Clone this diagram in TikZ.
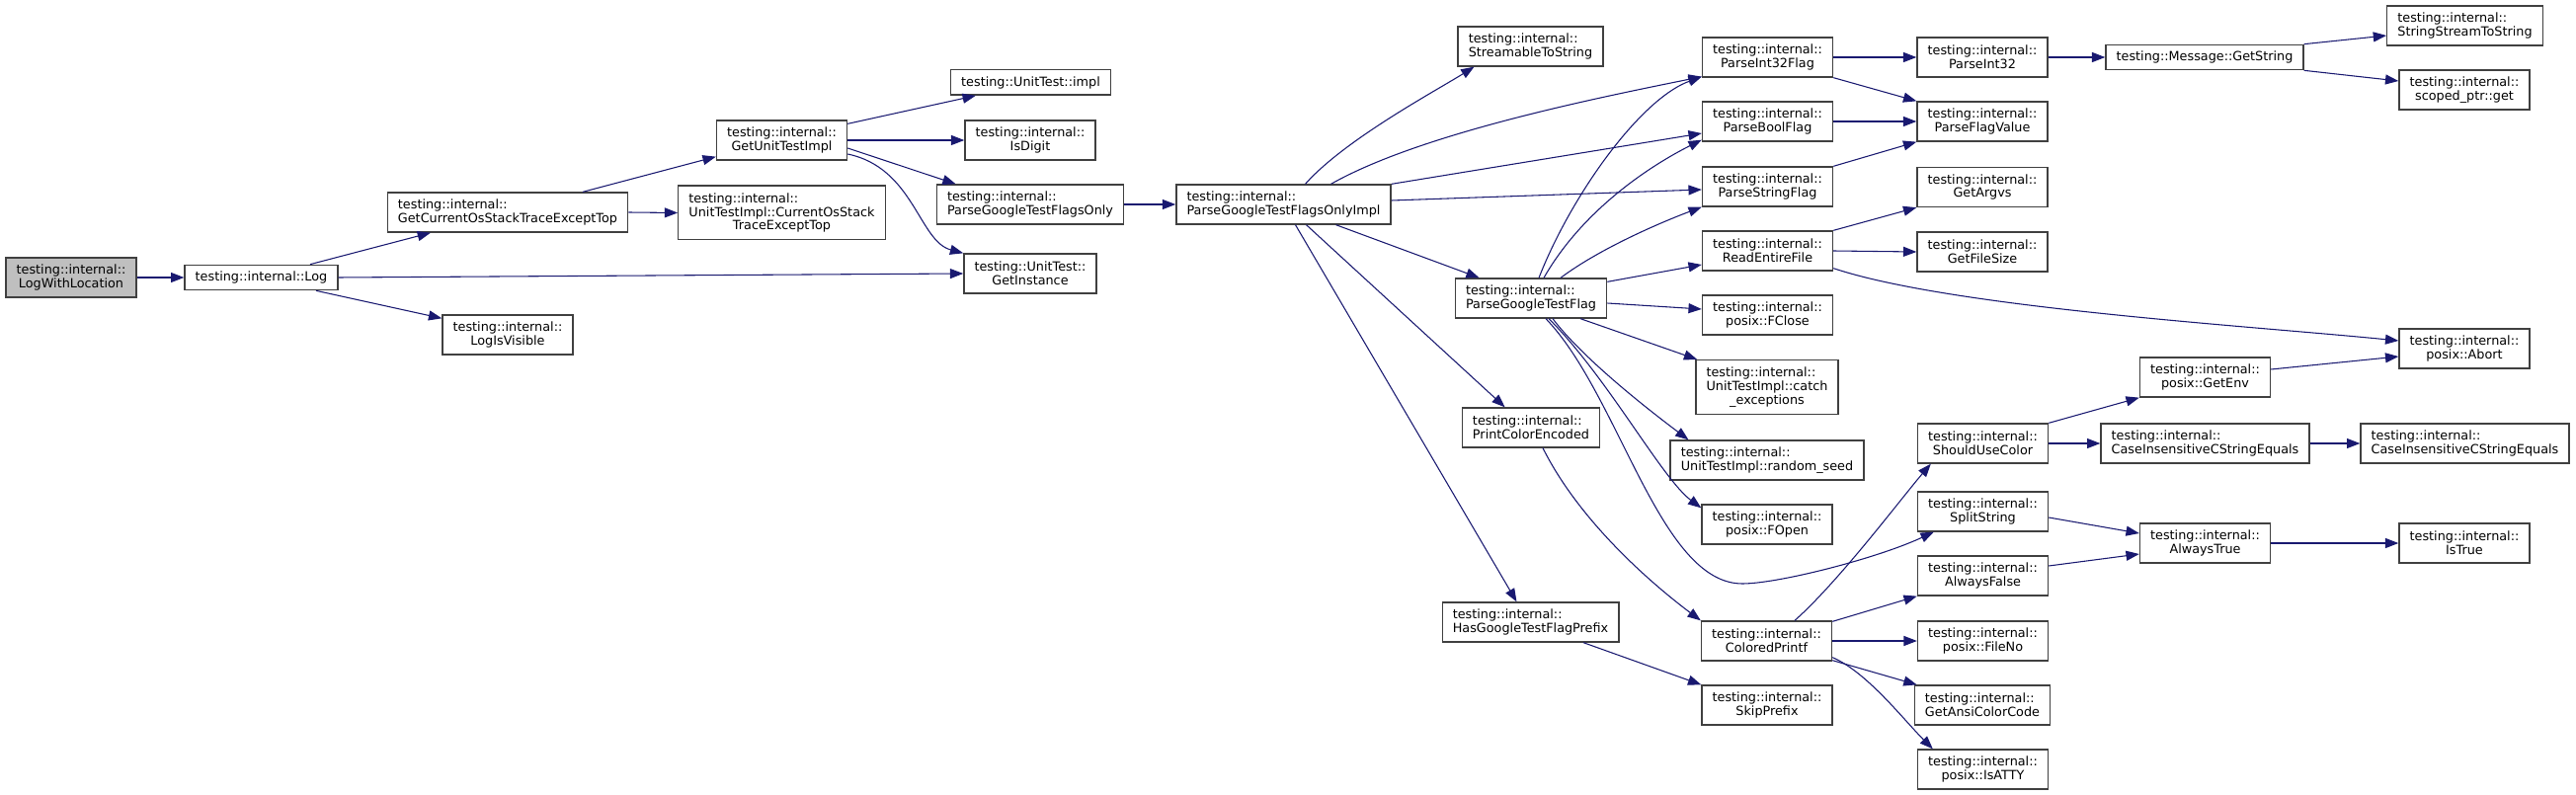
\documentclass[tikz,border=0pt]{standalone}
\usepackage{fontspec}
\setmainfont{DejaVu Sans}
\usetikzlibrary{arrows.meta,calc}
\definecolor{edgeblue}{HTML}{191970}
\definecolor{boxgray}{HTML}{404040}
\definecolor{rootgray}{HTML}{BFBFBF}
\newcommand{\ctrline}[1]{\null\hfill#1\hfill\null}

\begin{document}
\begin{tikzpicture}[x=0.75pt, y=-0.75pt,
    fn/.style={draw=boxgray, line width=1pt, fill=white, align=left,
      inner xsep=8pt, inner ysep=2pt, minimum height=19pt,
      font=\fontsize{9.6}{10.3}\selectfont},
    two/.style={minimum height=30pt},
    three/.style={minimum height=41pt},
    root/.style={fill=rootgray},
    call/.style={draw=edgeblue, line width=0.8pt, -{Triangle[length=10pt,width=7.5pt]}}]
    \useasboundingbox (0,0) rectangle (2608,805);

    % caller
    \node[fn, two, root] (lwl) at (72,281) {testing::internal::\\\ctrline{LogWithLocation}};
    \node[fn] (log) at (264.5,281) {testing::internal::Log};

    % Log callees
    \node[fn, two] (gcost) at (514,215) {testing::internal::\\\ctrline{GetCurrentOsStackTraceExceptTop}};
    \node[fn, two] (isvis) at (514,339) {testing::internal::\\\ctrline{LogIsVisible}};
    \node[fn, three] (cost) at (791.5,215.5) {testing::internal::\\UnitTestImpl::CurrentOsStack\\\ctrline{TraceExceptTop}};
    \node[fn, two] (gut) at (791.5,142) {testing::internal::\\\ctrline{GetUnitTestImpl}};
    \node[fn] (impl) at (1043.5,83.5) {testing::UnitTest::impl};
    \node[fn, two] (isdigit) at (1043,142) {testing::internal::\\\ctrline{IsDigit}};
    \node[fn, two] (pgtfo) at (1043,207) {testing::internal::\\\ctrline{ParseGoogleTestFlagsOnly}};
    \node[fn, two] (getinst) at (1043,277) {testing::UnitTest::\\\ctrline{GetInstance}};
    \node[fn, two] (pimpl) at (1299.5,207) {testing::internal::\\\ctrline{ParseGoogleTestFlagsOnlyImpl}};

    % flag parsing
    \node[fn, two] (s2s) at (1549.5,47) {testing::internal::\\\ctrline{StreamableToString}};
    \node[fn, two] (pgtf) at (1550,302) {testing::internal::\\\ctrline{ParseGoogleTestFlag}};
    \node[fn, two] (pce) at (1550,433) {testing::internal::\\\ctrline{PrintColorEncoded}};
    \node[fn, two] (hgtfp) at (1549.5,630) {testing::internal::\\\ctrline{HasGoogleTestFlagPrefix}};
    \node[fn, two] (pi32f) at (1789.5,58) {testing::internal::\\\ctrline{ParseInt32Flag}};
    \node[fn, two] (pbf) at (1789.5,123) {testing::internal::\\\ctrline{ParseBoolFlag}};
    \node[fn, two] (psf) at (1789.5,189) {testing::internal::\\\ctrline{ParseStringFlag}};
    \node[fn, two] (ref) at (1789.5,254) {testing::internal::\\\ctrline{ReadEntireFile}};
    \node[fn, two] (fclose) at (1789.5,319) {testing::internal::\\\ctrline{posix::FClose}};
    \node[fn, three] (catchx) at (1789,392) {testing::internal::\\UnitTestImpl::catch\\\ctrline{\_exceptions}};
    \node[fn, two] (seed) at (1789,466) {testing::internal::\\\ctrline{UnitTestImpl::random\_seed}};
    \node[fn, two] (fopen) at (1789,531) {testing::internal::\\\ctrline{posix::FOpen}};
    \node[fn, two] (cprintf) at (1788.5,649) {testing::internal::\\\ctrline{ColoredPrintf}};
    \node[fn, two] (skip) at (1789,714) {testing::internal::\\\ctrline{SkipPrefix}};

    % helpers
    \node[fn, two] (pi32) at (2007,58) {testing::internal::\\\ctrline{ParseInt32}};
    \node[fn, two] (pfv) at (2007,123) {testing::internal::\\\ctrline{ParseFlagValue}};
    \node[fn, two] (argvs) at (2007,189.5) {testing::internal::\\\ctrline{GetArgvs}};
    \node[fn, two] (fsize) at (2007,255) {testing::internal::\\\ctrline{GetFileSize}};
    \node[fn, two] (suc) at (2007.5,449) {testing::internal::\\\ctrline{ShouldUseColor}};
    \node[fn, two] (split) at (2007.5,518) {testing::internal::\\\ctrline{SplitString}};
    \node[fn, two] (afalse) at (2007.5,583) {testing::internal::\\\ctrline{AlwaysFalse}};
    \node[fn, two] (fileno) at (2007.5,649) {testing::internal::\\\ctrline{posix::FileNo}};
    \node[fn, two] (ansi) at (2007,714) {testing::internal::\\\ctrline{GetAnsiColorCode}};
    \node[fn, two] (isatty) at (2007.5,779) {testing::internal::\\\ctrline{posix::IsATTY}};

    % leaves
    \node[fn] (getstr) at (2232,58) {testing::Message::GetString};
    \node[fn, two] (ss2s) at (2495.5,26) {testing::internal::\\\ctrline{StringStreamToString}};
    \node[fn, two] (sptr) at (2495,91) {testing::internal::\\\ctrline{scoped\_ptr::get}};
    \node[fn, two] (abort) at (2495,353) {testing::internal::\\\ctrline{posix::Abort}};
    \node[fn, two] (getenv) at (2232.5,382) {testing::internal::\\\ctrline{posix::GetEnv}};
    \node[fn, two] (cise1) at (2232.5,449) {testing::internal::\\\ctrline{CaseInsensitiveCStringEquals}};
    \node[fn, two] (cise2) at (2495.5,449) {testing::internal::\\\ctrline{CaseInsensitiveCStringEquals}};
    \node[fn, two] (atrue) at (2232.5,550) {testing::internal::\\\ctrline{AlwaysTrue}};
    \node[fn, two] (istrue) at (2495,550) {testing::internal::\\\ctrline{IsTrue}};
    \coordinate (dip) at (1764,591);

    % calls from the left part
    \draw[call] (lwl.east) -- (log.west);
    \draw[call] ($(log.north)+(49.5,0)$) -- ($(gcost.south)+(-78,0)$);
    \draw[call] (log.east) -- (getinst.west);
    \draw[call] ($(log.south)+(55.5,0)$) -- ($(isvis.north west)+(0,4)$);
    \draw[call] ($(gcost.north)+(76,0)$) -- ($(gut.south west)+(0,-4)$);
    \draw[call] (gcost.east) -- (cost.west);
    \draw[call] ($(gut.north east)+(0,4)$) -- ($(impl.south west)+(26,0)$);
    \draw[call] (gut.east) -- (isdigit.west);
    \draw[call] ($(gut.east)+(0,8)$) -- ($(pgtfo.north west)+(20,0)$);
    \draw[call] ($(gut.east)+(0,14)$) .. controls +(67,14) and +(-45,-12) .. (getinst.north west);
    \draw[call] (pgtfo.east) -- (pimpl.west);

    % ParseGoogleTestFlagsOnlyImpl
    \draw[call] ($(pimpl.north)+(22,0)$) .. controls +(40,-45) and +(-40,25) .. ($(s2s.south west)+(17,0)$);
    \draw[call] ($(pimpl.north)+(48,0)$) .. controls +(92,-52) and +(-103,21) .. ($(pi32f.south west)+(0,-1)$);
    \draw[call] (pimpl.north east) -- ($(pbf.west)+(0,12)$);
    \draw[call] ($(pimpl.east)+(0,-4)$) -- ($(psf.west)+(0,3)$);
    \draw[call] ($(pimpl.south)+(53,0)$) -- ($(pgtf.north west)+(25,0)$);
    \draw[call] ($(pimpl.south)+(23,0)$) -- ($(pce.north west)+(44,0)$);
    \draw[call] ($(pimpl.south)+(12,0)$) -- ($(hgtfp.north west)+(76,0)$);

    % ParseGoogleTestFlag
    \draw[call] ($(pgtf.north)+(8,0)$) .. controls +(32,-82) and +(-63,23) .. ($(pi32f.south west)+(0,-1)$);
    \draw[call] ($(pgtf.north)+(13,0)$) .. controls +(40,-70) and +(-50,25) .. ($(pbf.south west)+(0,-2)$);
    \draw[call] ($(pgtf.north)+(30,0)$) .. controls +(40,-30) and +(-40,15) .. (psf.south west);
    \draw[call] ($(pgtf.north east)+(0,4)$) -- ($(ref.west)+(0,14)$);
    \draw[call] ($(pgtf.east)+(0,5)$) -- ($(fclose.west)+(0,-6)$);
    \draw[call] ($(pgtf.south)+(50,0)$) -- ($(catchx.north west)+(2,0)$);
    \draw[call] ($(pgtf.south)+(22,0)$) .. controls +(30,40) and +(-40,-30) .. ($(seed.north west)+(19,0)$);
    \draw[call] ($(pgtf.south)+(18,0)$) .. controls +(60,60) and +(-40,-30) .. ($(fopen.north west)+(0,4)$);
    \draw[call] ($(pgtf.south)+(15,0)$) .. controls +(75,78) and +(-84,0) .. (dip)
      .. controls +(36,0) and +(-58,27) .. ($(split.south west)+(17,0)$);

    % colour output
    \draw[call] ($(pce.south)+(12,0)$) .. controls +(40,80) and +(-40,-30) .. (cprintf.north west);
    \draw[call] ($(hgtfp.south)+(53.5,0)$) -- (skip.north west);
    \draw[call] ($(cprintf.north)+(28.5,0)$) .. controls +(45,-40) and +(-30,35) .. ($(suc.south west)+(14,0)$);
    \draw[call] ($(cprintf.north east)+(0,1)$) -- (afalse.south west);
    \draw[call] (cprintf.east) -- (fileno.west);
    \draw[call] ($(cprintf.south east)+(0,-1)$) -- ($(ansi.north west)+(3,0)$);
    \draw[call] ($(cprintf.south east)+(0,-4)$) .. controls +(35,15) and +(-30,-30) .. ($(isatty.north west)+(16,0)$);

    % right part
    \draw[call] (pi32f.east) -- (pi32.west);
    \draw[call] (pi32f.south east) -- (pfv.north west);
    \draw[call] (pbf.east) -- (pfv.west);
    \draw[call] (psf.north east) -- (pfv.south west);
    \draw[call] (ref.north east) -- (argvs.south west);
    \draw[call] (ref.east) -- (fsize.west);
    \draw[call] ($(ref.south east)+(0,-3)$) .. controls +(120,40) and +(-150,-15) .. ($(abort.west)+(0,-8)$);
    \draw[call] (pi32.east) -- (getstr.west);
    \draw[call] (getstr.north east) -- ($(ss2s.west)+(0,10)$);
    \draw[call] (getstr.south east) -- ($(sptr.west)+(0,-9)$);
    \draw[call] ($(getenv.east)+(0,-8)$) -- ($(abort.west)+(0,8)$);
    \draw[call] (suc.north east) -- (getenv.south west);
    \draw[call] (suc.east) -- (cise1.west);
    \draw[call] (cise1.east) -- (cise2.west);
    \draw[call] ($(split.east)+(0,6)$) -- ($(atrue.west)+(0,-10)$);
    \draw[call] ($(afalse.east)+(0,-10)$) -- ($(atrue.west)+(0,11)$);
    \draw[call] (atrue.east) -- (istrue.west);
\end{tikzpicture}
\end{document}
